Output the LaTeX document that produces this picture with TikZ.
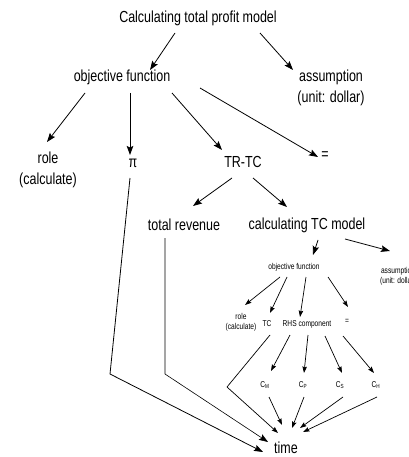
\documentclass[tikz,border=0pt]{standalone}
\usepackage{fontspec}
\setmainfont{Liberation Sans}[FakeStretch=0.78]
\usetikzlibrary{arrows.meta}
\begin{document}
\begin{tikzpicture}[x=1pt,y=-1pt,
  big/.style={font=\fontsize{16}{21}\selectfont, inner sep=0pt, align=center},
  lite/.style={font=\fontsize{8.5}{10}\selectfont, inner sep=0pt, align=center},
  conn/.style={line width=0.8pt, -{Stealth[length=9pt,width=6.5pt,inset=1.5pt]}},
  sconn/.style={line width=0.7pt, -{Stealth[length=6.5pt,width=4.5pt,inset=1pt]}}]
\useasboundingbox (0,0) rectangle (408,457);
\clip (0,0) rectangle (408,457);
\fill[white] (0,0) rectangle (408,457);

% total profit model
\node[big] (title)  at (198,18)  {Calculating total profit model};
\node[big] (obj)    at (122,77)  {objective function};
\node[big] (assum)  at (331,88)  {assumption\\(unit: dollar)};
\node[big] (role)   at (48,170)  {role\\(calculate)};
\node[big] (pi)     at (133,163) {π};
\node[big] (trtc)   at (243,162) {TR-TC};
\node[big] (eq)     at (325,156) {=};
\node[big] (totrev) at (184,225) {total revenue};
\node[big] (tcm)    at (307,225) {calculating TC model};

% nested TC model
\node[lite] (sobj)   at (294,267) {objective function};
\node[lite] (sassum) at (398,276) {assumption\\(unit: dollar)};
\node[lite] (srole)  at (241,322) {role\\(calculate)};
\node[lite] (stc)    at (267,324) {TC};
\node[lite] (srhs)   at (307,324) {RHS component};
\node[lite] (seq)    at (347,321) {=};
\node[lite] (cm) at (265,385) {C\textsubscript{M}};
\node[lite] (cp) at (303,385) {C\textsubscript{P}};
\node[lite] (cs) at (340,385) {C\textsubscript{S}};
\node[lite] (ch) at (376,385) {C\textsubscript{H}};

\node[big] (time) at (286,448) {time};

% bend points of the long connectors
\coordinate (tcbend)  at (227,387);
\coordinate (revbend) at (165,374);
\coordinate (pibend)  at (110,374);

% upper level
\draw[conn] ([shift={(-23,15)}]title.center) -- ([shift={(28,-7)}]obj.center);
\draw[conn] ([shift={(62,15)}]title.center) -- ([shift={(-38,-18)}]assum.center);
\draw[conn] ([shift={(-37,16)}]obj.center) -- ([shift={(-1,-28)}]role.center);
\draw[conn] ([shift={(8,16)}]obj.center) -- ([shift={(-3,-8)}]pi.center);
\draw[conn] ([shift={(50,16)}]obj.center) -- ([shift={(-21,-12)}]trtc.center);
\draw[conn] ([shift={(78,11)}]obj.center) -- ([shift={(-7,1)}]eq.center);
\draw[conn] ([shift={(-11,16)}]trtc.center) -- ([shift={(9,-19)}]totrev.center);
\draw[conn] ([shift={(10,16)}]trtc.center) -- ([shift={(-20,-18)}]tcm.center);
\draw[conn] ([shift={(11,15)}]tcm.center) -- ([shift={(19,-12)}]sobj.center);
\draw[conn] ([shift={(38,14)}]tcm.center) -- ([shift={(-8,-25)}]sassum.center);

% nested level
\draw[sconn] ([shift={(-14,10)}]sobj.center) -- ([shift={(4,-17)}]srole.center);
\draw[sconn] ([shift={(-7,10)}]sobj.center) -- ([shift={(3,-11)}]stc.center);
\draw[sconn] ([shift={(12,10)}]sobj.center) -- ([shift={(-7,-7)}]srhs.center);
\draw[sconn] ([shift={(34,10)}]sobj.center) -- ([shift={(1,-14)}]seq.center);
\draw[sconn] ([shift={(-17,11)}]srhs.center) -- ([shift={(6,-14)}]cm.center);
\draw[sconn] ([shift={(1,11)}]srhs.center) -- ([shift={(1,-12)}]cp.center);
\draw[sconn] ([shift={(18,12)}]srhs.center) -- ([shift={(2,-12)}]cs.center);
\draw[sconn] ([shift={(36,12)}]srhs.center) -- ([shift={(-2,-12)}]ch.center);

% everything converges on time
\draw[sconn] ([shift={(3,11)}]stc.center) -- (tcbend) -- ([shift={(-8,-15)}]time.center);
\draw[sconn] ([shift={(4,12)}]cm.center) -- ([shift={(-4,-23)}]time.center);
\draw[sconn] ([shift={(1,12)}]cp.center) -- ([shift={(6,-20)}]time.center);
\draw[sconn] ([shift={(3,12)}]cs.center) -- ([shift={(14,-20)}]time.center);
\draw[sconn] ([shift={(1,12)}]ch.center) -- ([shift={(17,-16)}]time.center);
\draw[conn, line width=0.6pt] ([shift={(-19,13)}]totrev.center) -- (revbend) -- ([shift={(-18,-6)}]time.center);
\draw[conn] ([shift={(-3,15)}]pi.center) -- (pibend) -- ([shift={(-23,4)}]time.center);
\end{tikzpicture}
\end{document}
